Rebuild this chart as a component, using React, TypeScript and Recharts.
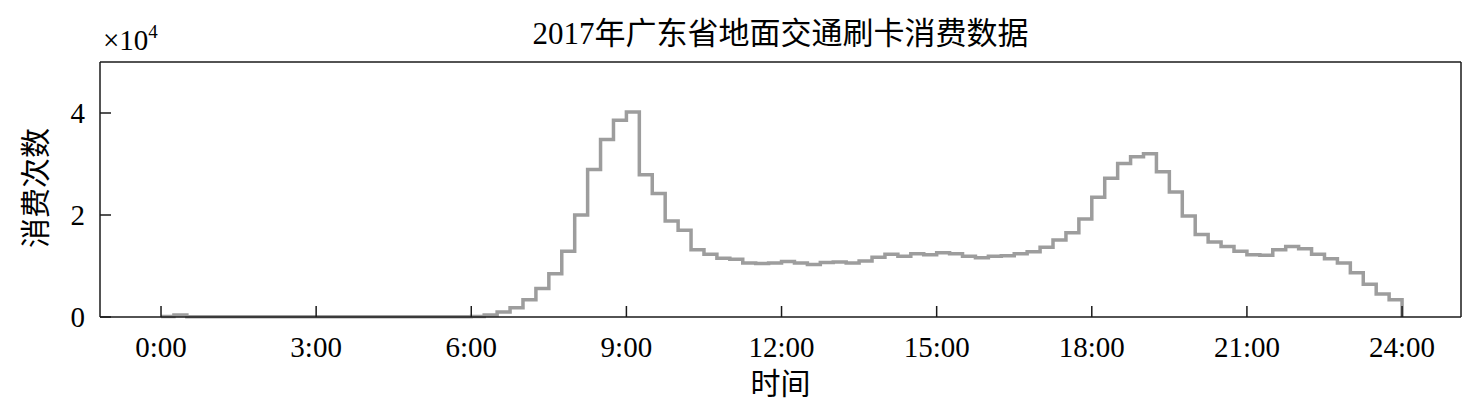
import React from "react";
import { LineChart, Line, XAxis, YAxis, ReferenceLine } from "recharts";

// 15-minute bins, card swipes per bin (raw counts)
const binCounts = [
  100, 400, 50, 50, 50, 50, 50, 50, 50, 50, 50, 50,
  50, 50, 50, 50, 50, 50, 50, 50, 50, 50, 50, 50,
  100, 400, 1000, 1800, 3400, 5600, 8500, 12900, 20000, 28900, 34800, 38600,
  40200, 27900, 24200, 18800, 17000, 13200, 12300, 11500, 11300, 10600, 10500, 10600,
  10900, 10600, 10300, 10700, 10800, 10600, 11000, 11700, 12300, 11900, 12400, 12200,
  12600, 12400, 11900, 11600, 11900, 12000, 12400, 12800, 13700, 15100, 16500, 19200,
  23500, 27200, 30100, 31400, 32000, 28500, 24500, 19800, 16200, 14700, 13800, 12900,
  12200, 12100, 13200, 13800, 13400, 12300, 11400, 10600, 8700, 6400, 4500, 3400,
];

const tickHours = [0, 3, 6, 9, 12, 15, 18, 21, 24];
const tickLabels = ["0:00", "3:00", "6:00", "9:00", "12:00", "15:00", "18:00", "21:00", "24:00"];
const yTicks = [0, 20000, 40000];

const BIN_HOURS = 0.25;
const X_DOMAIN: [number, number] = [-1.18, 25.14];
const Y_DOMAIN: [number, number] = [0, 50000];

const data = [
  ...binCounts.map((c, i) => ({ hour: i * BIN_HOURS, count: c })),
  { hour: 24, count: 0 },
];

const serif = "'Liberation Serif', 'Noto Sans CJK SC', serif";
const tickStyle = { fontSize: 29, fill: "#000", fontFamily: serif };
const frame = { stroke: "#1a1a1a", strokeWidth: 1.5 };

export default function App() {
  return (
    <div
      style={{
        position: "absolute",
        left: 0,
        top: 0,
        width: 1473,
        height: 415,
        background: "#fff",
        fontFamily: serif,
      }}
    >
      <LineChart
        width={1473}
        height={415}
        data={data}
        margin={{ top: 62, right: 12, bottom: 38, left: 0 }}
      >
        <XAxis
          dataKey="hour"
          type="number"
          domain={X_DOMAIN}
          ticks={tickHours}
          tickFormatter={(h) => tickLabels[tickHours.indexOf(h)] ?? ""}
          allowDataOverflow
          height={60}
          tickSize={-11}
          tickMargin={30}
          tick={tickStyle}
          axisLine={frame}
          tickLine={frame}
        />
        <YAxis
          type="number"
          domain={Y_DOMAIN}
          ticks={yTicks}
          tickFormatter={(v) => String(v / 10000)}
          width={100}
          tickSize={-11}
          tickMargin={26}
          tick={tickStyle}
          axisLine={frame}
          tickLine={frame}
        />
        {/* box: top and right edges */}
        <ReferenceLine y={Y_DOMAIN[1]} {...frame} ifOverflow="extendDomain" />
        <ReferenceLine x={X_DOMAIN[1]} {...frame} ifOverflow="extendDomain" />
        <Line
          type="stepAfter"
          dataKey="count"
          stroke="#9d9d9d"
          strokeWidth={3.5}
          dot={false}
          isAnimationActive={false}
        />
      </LineChart>

      <div
        style={{
          position: "absolute",
          left: 100,
          width: 1361,
          top: 17,
          textAlign: "center",
          fontSize: 31,
          lineHeight: "34px",
        }}
      >
        2017年广东省地面交通刷卡消费数据
      </div>
      <div style={{ position: "absolute", left: 103, top: 25, fontSize: 29, lineHeight: "30px" }}>
        ×10<sup style={{ fontSize: 19, verticalAlign: "12px", lineHeight: 0 }}>4</sup>
      </div>
      <div
        style={{
          position: "absolute",
          left: 36,
          top: 188,
          fontSize: 30,
          lineHeight: "32px",
          whiteSpace: "nowrap",
          transform: "translate(-50%, -50%) rotate(-90deg)",
        }}
      >
        消费次数
      </div>
      <div
        style={{
          position: "absolute",
          left: 100,
          width: 1361,
          top: 368,
          textAlign: "center",
          fontSize: 30,
          lineHeight: "32px",
        }}
      >
        时间
      </div>
    </div>
  );
}
